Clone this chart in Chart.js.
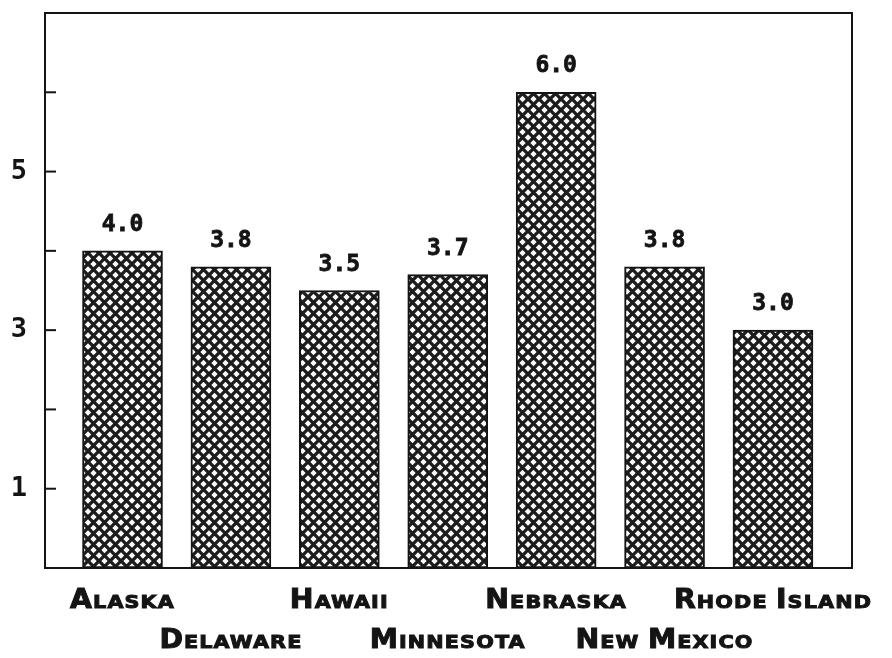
<!DOCTYPE html>
<html>
<head>
<meta charset="utf-8">
<script src="https://cdn.jsdelivr.net/npm/chart.js@4/dist/chart.umd.min.js"></script>
<style>
  html, body { margin: 0; padding: 0; background: #fff; }
  #wrap { width: 892px; height: 658px; }
</style>
</head>
<body>
<div id="wrap"><canvas id="chart"></canvas></div>
<script>
// Chart data
const states = ['Alaska', 'Delaware', 'Hawaii', 'Minnesota', 'Nebraska', 'New Mexico', 'Rhode Island']
const rates = [4.0, 3.8, 3.5, 3.7, 6.0, 3.8, 3.0]
const yLabels = [1, 3, 5]
const yTicks = [1, 2, 3, 4, 5, 6]

const ink = '#141414'
const labelFamily = '"DejaVu Sans"'

// crosshatch fill for the bars
function hatchPattern () {
  const size = 11
  const c = document.createElement('canvas')
  c.width = size
  c.height = size
  const g = c.getContext('2d')
  g.fillStyle = '#fafafa'
  g.fillRect(0, 0, size, size)
  g.strokeStyle = '#1c1c1c'
  g.lineWidth = 3.3
  for (const off of [-size, 0, size]) {
    g.beginPath()
    g.moveTo(off - 2, -2)
    g.lineTo(off + size + 2, size + 2)
    g.moveTo(off + size + 2, -2)
    g.lineTo(off - 2, size + 2)
    g.stroke()
  }
  return g.createPattern(c, 'repeat')
}

// split a label into small-caps pieces: first letter of each word large, rest small
function smallCapsParts (text) {
  const parts = []
  text.split(' ').forEach((word, w) => {
    if (w > 0) parts.push({ t: ' ', big: false })
    parts.push({ t: word[0].toUpperCase(), big: true })
    if (word.length > 1) parts.push({ t: word.slice(1).toUpperCase(), big: false })
  })
  return parts
}

function drawSmallCaps (ctx, text, cx, baseline) {
  const bigFont = `bold 27px ${labelFamily}`
  const smallFont = `bold 18px ${labelFamily}`
  const stretch = 1.15
  ctx.letterSpacing = '1px'
  const parts = smallCapsParts(text)
  let total = 0
  parts.forEach(p => {
    ctx.font = p.big ? bigFont : smallFont
    p.sx = p.big ? 1.05 : stretch
    p.w = ctx.measureText(p.t).width * p.sx
    total += p.w
  })
  let x = cx - total / 2
  ctx.textAlign = 'left'
  ctx.textBaseline = 'alphabetic'
  ctx.lineWidth = 1
  ctx.strokeStyle = ink
  parts.forEach(p => {
    ctx.font = p.big ? bigFont : smallFont
    ctx.save()
    ctx.translate(x, baseline)
    ctx.scale(p.sx, 1)
    ctx.fillText(p.t, 0, 0)
    ctx.strokeText(p.t, 0, 0)
    ctx.restore()
    x += p.w
  })
  ctx.letterSpacing = '0px'
}

const framePlugin = {
  id: 'frame',
  afterDatasetsDraw (chart) {
    const { ctx, chartArea: a, scales } = chart
    ctx.save()
    ctx.strokeStyle = ink
    ctx.lineWidth = 2
    ctx.strokeRect(a.left, a.top, a.right - a.left, a.bottom - a.top)
    // inward tick marks on the left axis
    yTicks.forEach(v => {
      const y = scales.y.getPixelForValue(v)
      ctx.beginPath()
      ctx.moveTo(a.left, y)
      ctx.lineTo(a.left + 11, y)
      ctx.stroke()
    })
    // value labels above bars
    ctx.fillStyle = ink
    ctx.font = 'bold 23px "DejaVu Sans Mono"'
    ctx.textAlign = 'center'
    ctx.textBaseline = 'alphabetic'
    ctx.lineWidth = 0.8
    chart.getDatasetMeta(0).data.forEach((bar, i) => {
      ctx.fillText(rates[i].toFixed(1), bar.x, bar.y - 20)
      ctx.strokeText(rates[i].toFixed(1), bar.x, bar.y - 20)
    })
    // category labels, staggered on two rows
    ctx.fillStyle = ink
    states.forEach((s, i) => {
      const x = scales.x.getPixelForValue(i + 1)
      drawSmallCaps(ctx, s, x, i % 2 === 0 ? a.bottom + 40 : a.bottom + 80)
    })
    ctx.restore()
  }
}

new Chart(document.getElementById('chart'), {
  type: 'bar',
  data: {
    datasets: [{
      data: rates.map((v, i) => ({ x: i + 1, y: v })),
      backgroundColor: hatchPattern(),
      borderColor: ink,
      borderWidth: 2,
      borderSkipped: false,
      barThickness: 80
    }]
  },
  options: {
    responsive: true,
    maintainAspectRatio: false,
    animation: false,
    layout: { padding: { top: 13, right: 40, left: 0, bottom: 0 } },
    plugins: { legend: { display: false }, tooltip: { enabled: false } },
    scales: {
      x: {
        type: 'linear',
        offset: false,
        min: 0.285,
        max: 7.729,
        grid: { display: false, drawTicks: false },
        border: { display: false },
        ticks: { display: false },
        afterFit: scale => {
          scale.height = 90
          scale.paddingLeft = 0
          scale.paddingRight = 0
        }
      },
      y: {
        min: 0,
        max: 7,
        grid: { display: false, drawTicks: false },
        border: { display: false },
        afterFit: scale => {
          scale.width = 45
          scale.paddingTop = 0
          scale.paddingBottom = 0
        },
        ticks: {
          stepSize: 1,
          padding: 18,
          color: ink,
          font: { family: '"DejaVu Sans Mono"', size: 27, weight: 'bold' },
          callback: v => yLabels.includes(v) ? String(v) : ''
        }
      }
    }
  },
  plugins: [framePlugin]
})
</script>
</body>
</html>
